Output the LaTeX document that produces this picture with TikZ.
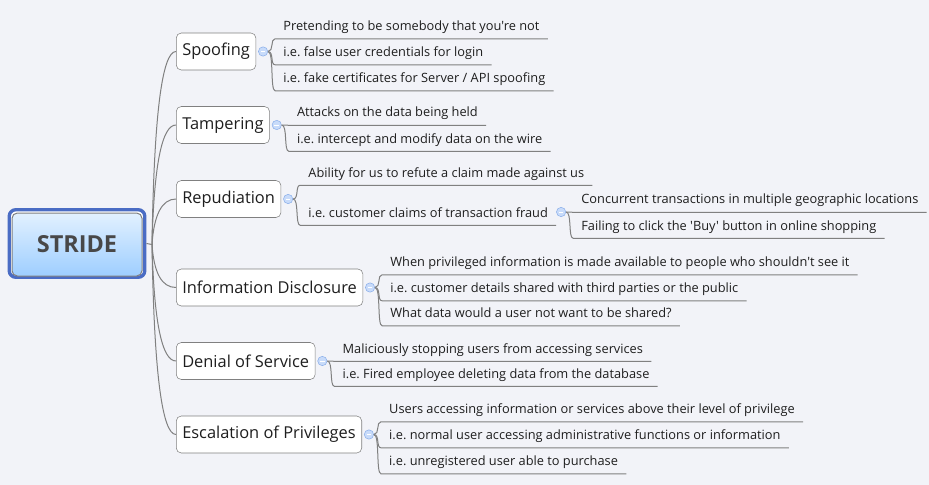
\documentclass[tikz,border=0pt]{standalone}
\usepackage{fontspec}
\setmainfont{Open Sans}[Ligatures=TeXOff]
\usepackage{tikz}
\usetikzlibrary{positioning}
\frenchspacing

\definecolor{bgcol}{RGB}{242,243,248}
\definecolor{linegray}{RGB}{128,128,128}
\definecolor{ink}{RGB}{30,30,30}
\definecolor{rootblue}{RGB}{74,108,196}
\definecolor{roottop}{RGB}{226,241,255}
\definecolor{rootbot}{RGB}{158,206,255}
\definecolor{rootink}{RGB}{72,72,72}
\definecolor{foldfill}{RGB}{200,219,250}
\definecolor{folddraw}{RGB}{140,176,234}

\begin{document}
\begin{tikzpicture}[x=0.75pt,y=0.75pt,yscale=-1,xscale=1,
  topic/.style={draw=linegray, fill=white, rounded corners=3.75pt, minimum height=27.75pt, inner xsep=4.5pt, anchor=west, text=ink, font=\fontsize{12.3}{14}\selectfont},
  subtopic/.style={anchor=west, text height=13.5pt, text depth=6pt, inner xsep=6pt, inner ysep=0pt, text=ink, font=\fontsize{9.6}{11}\selectfont},
  fold/.style={circle, draw=folddraw, fill=foldfill, minimum size=7pt, inner sep=0pt, path picture={\draw[white, line width=0.6pt] ([xshift=-1.7pt]path picture bounding box.center) -- ([xshift=1.7pt]path picture bounding box.center);}},
  branch/.style={draw=linegray, line width=0.75pt}]
\fill[bgcol] (0,0) rectangle (929,485);

% root
\node[draw=rootblue, line width=2.5pt, fill=white, rounded corners=5pt, minimum width=101.7pt, minimum height=50.7pt, inner sep=0pt] (frame) at (77,243.5) {};
\node[draw=linegray, line width=0.75pt, rounded corners=4pt, top color=roottop, bottom color=rootbot, minimum width=97.5pt, minimum height=47.25pt, text=rootink, font=\fontsize{17.6}{20}\selectfont\bfseries] (stride) at (77,244.5) {STRIDE};
\coordinate (hub) at (152,244.5);

% main topics
\node[topic] (spoof) at (176,51.5) {Spoofing};
\node[topic] (tamper) at (176,125) {Tampering};
\node[topic] (repud) at (176,199) {Repudiation};
\node[topic] (info) at (176,287.5) {Information Disclosure};
\node[topic] (dos) at (176,361) {Denial of Service};
\node[topic] (elev) at (176,434.5) {Escalation of Privileges};

\node[fold, right=1.5pt of spoof] (spoof-f) {};
\node[fold, right=1.5pt of tamper] (tamper-f) {};
\node[fold, right=1.5pt of repud] (repud-f) {};
\node[fold, right=1.5pt of info] (info-f) {};
\node[fold, right=1.5pt of dos] (dos-f) {};
\node[fold, right=1.5pt of elev] (elev-f) {};

\draw[branch] (frame.east) -- (hub);
\draw[branch] (hub) .. controls +(2,-129) and +(-14,0) .. (spoof.west);
\draw[branch] (hub) .. controls +(2,-80) and +(-14,0) .. (tamper.west);
\draw[branch] (hub) .. controls +(2,-30) and +(-14,0) .. (repud.west);
\draw[branch] (hub) .. controls +(2,29) and +(-14,0) .. (info.west);
\draw[branch] (hub) .. controls +(2,78) and +(-14,0) .. (dos.west);
\draw[branch] (hub) .. controls +(2,127) and +(-14,0) .. (elev.west);

% spoofing
\path (spoof-f) ++(12,-26) node[subtopic] (spoof1) {Pretending to be somebody that you're not};
\path (spoof-f) ++(12,0) node[subtopic] (spoof2) {i.e. false user credentials for login};
\path (spoof-f) ++(12,26) node[subtopic] (spoof3) {i.e. fake certificates for Server / API spoofing};
\draw[branch] (spoof-f.east) .. controls +(6,0) and +(-5,0) .. (spoof1.south west) -- (spoof1.south east);
\draw[branch] (spoof-f.east) .. controls +(6,0) and +(-5,0) .. (spoof2.south west) -- (spoof2.south east);
\draw[branch] (spoof-f.east) .. controls +(6,0) and +(-5,0) .. (spoof3.south west) -- (spoof3.south east);

% tampering
\path (tamper-f) ++(12,-13) node[subtopic] (tamper1) {Attacks on the data being held};
\path (tamper-f) ++(12,13) node[subtopic] (tamper2) {i.e. intercept and modify data on the wire};
\draw[branch] (tamper-f.east) .. controls +(6,0) and +(-5,0) .. (tamper1.south west) -- (tamper1.south east);
\draw[branch] (tamper-f.east) .. controls +(6,0) and +(-5,0) .. (tamper2.south west) -- (tamper2.south east);

% repudiation
\path (repud-f) ++(12,-27) node[subtopic] (repud1) {Ability for us to refute a claim made against us};
\path (repud-f) ++(12,13) node[subtopic] (claim) {i.e. customer claims of transaction fraud};
\node[fold, right=0pt of claim] (claim-f) {};
\draw[branch] (repud-f.east) .. controls +(6,0) and +(-5,0) .. (repud1.south west) -- (repud1.south east);
\draw[branch] (repud-f.east) .. controls +(6,0) and +(-5,0) .. (claim.south west) -- (claim.south east);
\path (claim-f) ++(12,-13) node[subtopic] (claim1) {Concurrent transactions in multiple geographic locations};
\path (claim-f) ++(12,13) node[subtopic] (claim2) {Failing to click the 'Buy' button in online shopping};
\draw[branch] (claim-f.east) .. controls +(6,0) and +(-5,0) .. (claim1.south west) -- (claim1.south east);
\draw[branch] (claim-f.east) .. controls +(6,0) and +(-5,0) .. (claim2.south west) -- (claim2.south east);

% information disclosure
\path (info-f) ++(12,-26) node[subtopic] (info1) {When privileged information is made available to people who shouldn't see it};
\path (info-f) ++(12,0) node[subtopic] (info2) {i.e. customer details shared with third parties or the public};
\path (info-f) ++(12,25) node[subtopic] (info3) {What data would a user not want to be shared?};
\draw[branch] (info-f.east) .. controls +(6,0) and +(-5,0) .. (info1.south west) -- (info1.south east);
\draw[branch] (info-f.east) .. controls +(6,0) and +(-5,0) .. (info2.south west) -- (info2.south east);
\draw[branch] (info-f.east) .. controls +(6,0) and +(-5,0) .. (info3.south west) -- (info3.south east);

% denial of service
\path (dos-f) ++(12,-13) node[subtopic] (dos1) {Maliciously stopping users from accessing services};
\path (dos-f) ++(12,12) node[subtopic] (dos2) {i.e. Fired employee deleting data from the database};
\draw[branch] (dos-f.east) .. controls +(6,0) and +(-5,0) .. (dos1.south west) -- (dos1.south east);
\draw[branch] (dos-f.east) .. controls +(6,0) and +(-5,0) .. (dos2.south west) -- (dos2.south east);

% escalation of privileges
\path (elev-f) ++(12,-26) node[subtopic] (elev1) {Users accessing information or services above their level of privilege};
\path (elev-f) ++(12,0) node[subtopic] (elev2) {i.e. normal user accessing administrative functions or information};
\path (elev-f) ++(12,26) node[subtopic] (elev3) {i.e. unregistered user able to purchase};
\draw[branch] (elev-f.east) .. controls +(6,0) and +(-5,0) .. (elev1.south west) -- (elev1.south east);
\draw[branch] (elev-f.east) .. controls +(6,0) and +(-5,0) .. (elev2.south west) -- (elev2.south east);
\draw[branch] (elev-f.east) .. controls +(6,0) and +(-5,0) .. (elev3.south west) -- (elev3.south east);
\end{tikzpicture}
\end{document}
